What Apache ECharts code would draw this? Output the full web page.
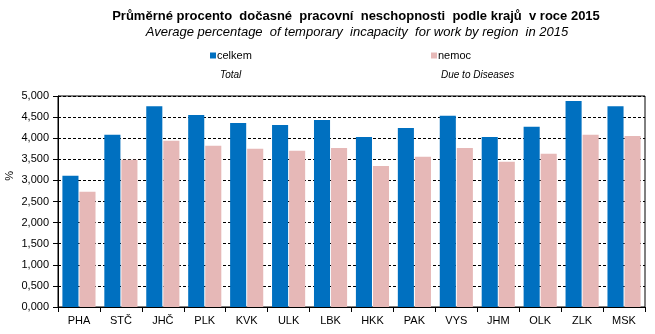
<!DOCTYPE html>
<html><head><meta charset="utf-8">
<script src="https://cdn.jsdelivr.net/npm/echarts@6/dist/echarts.min.js"></script>
<style>html,body{margin:0;padding:0;background:#fff}#c{width:655px;height:334px}</style>
</head><body><div id="c"></div>
<script>
const categories = ['PHA','STČ','JHČ','PLK','KVK','ULK','LBK','HKK','PAK','VYS','JHM','OLK','ZLK','MSK'];
const celkem = [3.11,4.08,4.76,4.55,4.36,4.31,4.43,4.03,4.24,4.53,4.03,4.27,4.88,4.76];
const nemoc = [2.73,3.49,3.94,3.82,3.75,3.70,3.77,3.34,3.56,3.77,3.44,3.63,4.08,4.05];
const yTicks = {min:0, max:5, interval:0.5};
const FONT = 'Liberation Sans, Arial, sans-serif';
const chart = echarts.init(document.getElementById('c'), null, {renderer:'canvas'});
chart.setOption({
  animation:false,
  backgroundColor:'#fff',
  title:[
    {text:'Průměrné procento  dočasné  pracovní  neschopnosti  podle krajů  v roce 2015', left:351, top:5, textAlign:'center',
     textStyle:{fontFamily:FONT,fontSize:13,fontWeight:'bold',color:'#000'}},
    {text:'Average percentage  of temporary  incapacity  for work by region  in 2015', left:352, top:21, textAlign:'center',
     textStyle:{fontFamily:FONT,fontSize:13,fontStyle:'italic',fontWeight:'normal',color:'#000'}},
    {text:'Total', left:215, top:65, textStyle:{fontFamily:FONT,fontSize:10,fontStyle:'italic',fontWeight:'normal',color:'#000'}},
    {text:'Due to Diseases', left:436, top:65, textStyle:{fontFamily:FONT,fontSize:10,fontStyle:'italic',fontWeight:'normal',color:'#000'}}
  ],
  legend:[
    {data:['celkem'], left:205, top:45, itemWidth:6, itemHeight:6, itemGap:2, icon:'rect',
     textStyle:{fontFamily:FONT,fontSize:11,color:'#000',padding:[0,0,0,-4]}},
    {data:['nemoc'], left:426, top:45, itemWidth:6, itemHeight:6, itemGap:2, icon:'rect',
     textStyle:{fontFamily:FONT,fontSize:11,color:'#000',padding:[0,0,0,-4]}}
  ],
  grid:{left:58, right:10, top:96, bottom:27, show:true, borderColor:'#000', borderWidth:1},
  xAxis:{type:'category', data:categories,
    axisLine:{lineStyle:{color:'#000'}},
    axisTick:{show:true, length:5, lineStyle:{color:'#000'}},
    axisLabel:{fontFamily:FONT,fontSize:11,color:'#000',margin:8}},
  yAxis:{type:'value', min:yTicks.min, max:yTicks.max, interval:yTicks.interval,
    axisLine:{show:true,lineStyle:{color:'#000'}},
    axisTick:{show:true,length:5,lineStyle:{color:'#000'}},
    axisLabel:{fontFamily:FONT,fontSize:11,color:'#000',margin:9,
      formatter:v=>v.toFixed(3).replace('.',',')},
    splitLine:{show:true,lineStyle:{color:'#000',type:[3,2],width:1}}},
  graphic:[{type:'text', left:4, top:171, rotation:Math.PI/2,
    style:{text:'%', font:'11px '+FONT, fill:'#000'}}],
  series:[
    {name:'celkem', type:'bar', data:celkem, itemStyle:{color:'#0070C0'}, barGap:'6%', barCategoryGap:'21%'},
    {name:'nemoc', type:'bar', data:nemoc, itemStyle:{color:'#E6B8B7'}}
  ]
});
</script></body></html>
